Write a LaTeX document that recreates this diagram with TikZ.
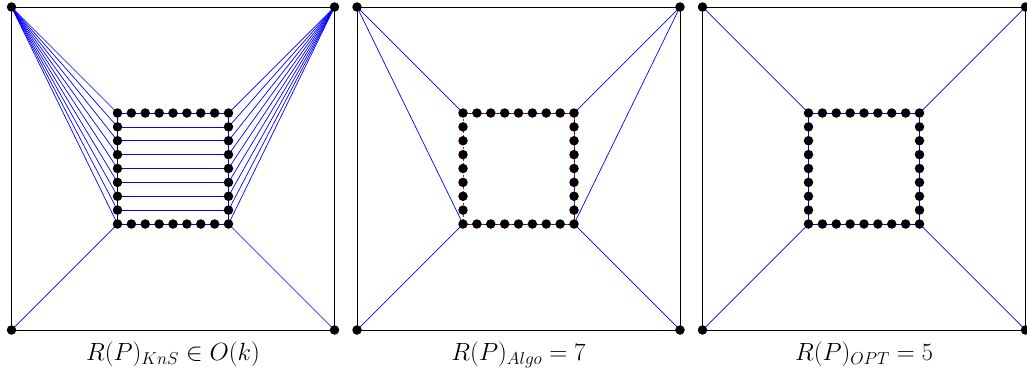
\documentclass[tikz,border=0pt]{standalone}
\usepackage{amsmath,amssymb}
\usepackage{tikz}
\usetikzlibrary{calc}
\tikzset{
  dot/.style={circle, fill=black, inner sep=0pt, minimum size=9.5pt},
  border/.style={black, line width=0.8pt},
  link/.style={blue, line width=0.7pt},
  route/.style={red, line width=0.8pt, dash pattern=on 2pt off 2pt},
  caption/.style={font=\fontsize{23}{27}\selectfont}
}
% outer square and inner ring of points for one panel
\newcommand{\panelframe}[1]{
  \coordinate (#1-OTL) at (-161.5,161.5);
  \coordinate (#1-OTR) at (161.5,161.5);
  \coordinate (#1-OBL) at (-161.5,-161.5);
  \coordinate (#1-OBR) at (161.5,-161.5);
  \draw[border] (#1-OTL) -- (#1-OTR) -- (#1-OBR) -- (#1-OBL) -- cycle;
  \foreach \i in {0,...,8} {
    \coordinate (#1-L\i) at (-55.5,55.5-13.875*\i);
    \coordinate (#1-R\i) at (55.5,55.5-13.875*\i);
    \coordinate (#1-T\i) at (-55.5+13.875*\i,55.5);
    \coordinate (#1-B\i) at (-55.5+13.875*\i,-55.5);
  }
}
\newcommand{\paneldots}[1]{
  \foreach \c in {OTL,OTR,OBL,OBR}
    \node[dot] (#1-d\c) at (#1-\c) {};
  \foreach \i in {0,...,8} {
    \node[dot] (#1-dL\i) at (#1-L\i) {};
    \node[dot] (#1-dR\i) at (#1-R\i) {};
  }
  \foreach \i in {1,...,7} {
    \node[dot] (#1-dT\i) at (#1-T\i) {};
    \node[dot] (#1-dB\i) at (#1-B\i) {};
  }
}

\begin{document}
\begin{tikzpicture}[x=1pt,y=1pt]
\useasboundingbox (0,0) rectangle (1027,376);

% KnS
\begin{scope}[shift={(173,207.5)}]
  \panelframe{kns}
  \draw[border] (kns-L0) -- (kns-L8);
  \draw[link] (kns-L0) -- (kns-R0) -- (kns-R8) -- (kns-L8);
  \foreach \i in {1,...,7}
    \draw[link] (kns-L\i) -- (kns-R\i);
  \foreach \i in {0,...,8} {
    \draw[link] (kns-OTL) -- (kns-L\i);
    \draw[link] (kns-OTR) -- (kns-R\i);
  }
  \draw[link] (kns-OBL) -- (kns-L8);
  \draw[link] (kns-OBR) -- (kns-R8);
  \paneldots{kns}
  \node[caption] (kns-cap) at (0,-186) {$R(P)_{KnS} \in O(k)$};
\end{scope}

% Algo
\begin{scope}[shift={(518.5,207.5)}]
  \panelframe{alg}
  \draw[link] (alg-L0) -- (alg-R0) -- (alg-R8) -- (alg-L8);
  \draw[route] (alg-L0) -- (alg-R0) -- (alg-R8) -- (alg-L8) -- cycle;
  \draw[link] (alg-OTL) -- (alg-L0);
  \draw[link] (alg-OTL) -- (alg-L8);
  \draw[link] (alg-OTR) -- (alg-R0);
  \draw[link] (alg-OTR) -- (alg-R8);
  \draw[link] (alg-OBL) -- (alg-L8);
  \draw[link] (alg-OBR) -- (alg-R8);
  \paneldots{alg}
  \node[caption] (alg-cap) at (0,-186) {$R(P)_{Algo} = 7$};
\end{scope}

% OPT
\begin{scope}[shift={(864,207.5)}]
  \panelframe{opt}
  \draw[link] (opt-L0) -- (opt-R0) -- (opt-R8) -- (opt-L8) -- cycle;
  \draw[link] (opt-OTL) -- (opt-L0);
  \draw[link] (opt-OTR) -- (opt-R0);
  \draw[link] (opt-OBL) -- (opt-L8);
  \draw[link] (opt-OBR) -- (opt-R8);
  \paneldots{opt}
  \node[caption] (opt-cap) at (0,-186) {$R(P)_{OPT} = 5$};
\end{scope}
\end{tikzpicture}
\end{document}
